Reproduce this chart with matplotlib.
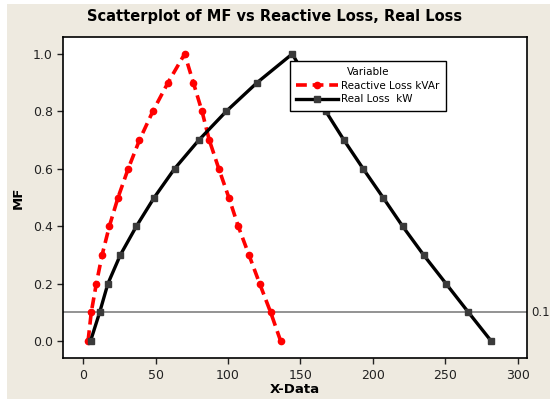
import numpy as np
import matplotlib
matplotlib.use("Agg")
import matplotlib.pyplot as plt
from matplotlib.patches import Rectangle

# Reactive Loss kVAr
react_x = [3.3, 5.5, 9, 13, 18, 24, 31, 38.8, 48, 58.5, 70,
           76, 82, 87, 93.6, 100.5, 107, 114.4, 121.8, 129.4, 136.3]
react_y = [0.0, 0.1, 0.2, 0.3, 0.4, 0.5, 0.6, 0.7, 0.8, 0.9, 1.0,
           0.9, 0.8, 0.7, 0.6, 0.5, 0.4, 0.3, 0.2, 0.1, 0.0]

# Real Loss kW
real_x = [5, 11.3, 17, 25.6, 36.7, 49, 63, 79.8, 98.7, 120, 144.3,
          156, 167.5, 180, 193.3, 207, 220.5, 235, 250.5, 266, 281.7]
real_y = [0.0, 0.1, 0.2, 0.3, 0.4, 0.5, 0.6, 0.7, 0.8, 0.9, 1.0,
          0.9, 0.8, 0.7, 0.6, 0.5, 0.4, 0.3, 0.2, 0.1, 0.0]

ref_level = 0.1
xticks = [0, 50, 100, 150, 200, 250, 300]
yticks = [0.0, 0.2, 0.4, 0.6, 0.8, 1.0]

beige = "#eeeae0"
fig = plt.figure(figsize=(5.5, 3.99), dpi=100)
fig.patch.set_facecolor("white")
fig.patches.append(Rectangle((7 / 550, 0), 1, 1 - 4 / 399, transform=fig.transFigure,
                             facecolor=beige, edgecolor="none", zorder=-10))

ax = fig.add_axes([0.1151, 0.102, 0.8425, 0.806])
ax.set_facecolor("white")

ax.axhline(ref_level, color="#808080", lw=1.2, zorder=1)
ax.text(1.01, ref_level, "0.1", transform=ax.get_yaxis_transform(),
        va="center", ha="left", fontsize=8.5, color="#222222", clip_on=False)

ax.plot(react_x, react_y, color="red", ls=(0, (3, 1.6)), lw=2.6,
        marker="o", ms=4.5, mfc="red", mec="red", label="Reactive Loss kVAr", zorder=3)
ax.plot(real_x, real_y, color="black", lw=2.4,
        marker="s", ms=4, mfc="#3a3a3a", mec="#3a3a3a", label="Real Loss  kW", zorder=3)

ax.set_xlim(-13.8, 306.2)
ax.set_ylim(-0.060, 1.060)
ax.set_xticks(xticks)
ax.set_yticks(yticks)
ax.set_yticklabels(["%.1f" % v for v in yticks])
ax.tick_params(direction="out", length=4, width=1, labelsize=9, colors="#222222")
for s in ax.spines.values():
    s.set_linewidth(1.2)

ax.set_xlabel("X-Data", fontsize=9.5, fontweight="bold", labelpad=1)
ax.set_ylabel("MF", fontsize=9.5, fontweight="bold", labelpad=6)
fig.text(0.5, 0.958, "Scatterplot of MF vs Reactive Loss, Real Loss",
         ha="center", va="center", fontsize=10.5, fontweight="bold")

leg = ax.legend(loc="upper left", bbox_to_anchor=(0.489, 0.925), borderaxespad=0,
                title="Variable", fontsize=7.5, title_fontsize=7.5, frameon=True,
                fancybox=False, handlelength=4.0, borderpad=0.6, labelspacing=0.35,
                handletextpad=0.3)
leg.get_frame().set_edgecolor("black")
leg.get_frame().set_linewidth(1)
leg.get_frame().set_alpha(1)
leg.set_zorder(5)

fig.savefig("out.png", dpi=100, facecolor=fig.get_facecolor())
